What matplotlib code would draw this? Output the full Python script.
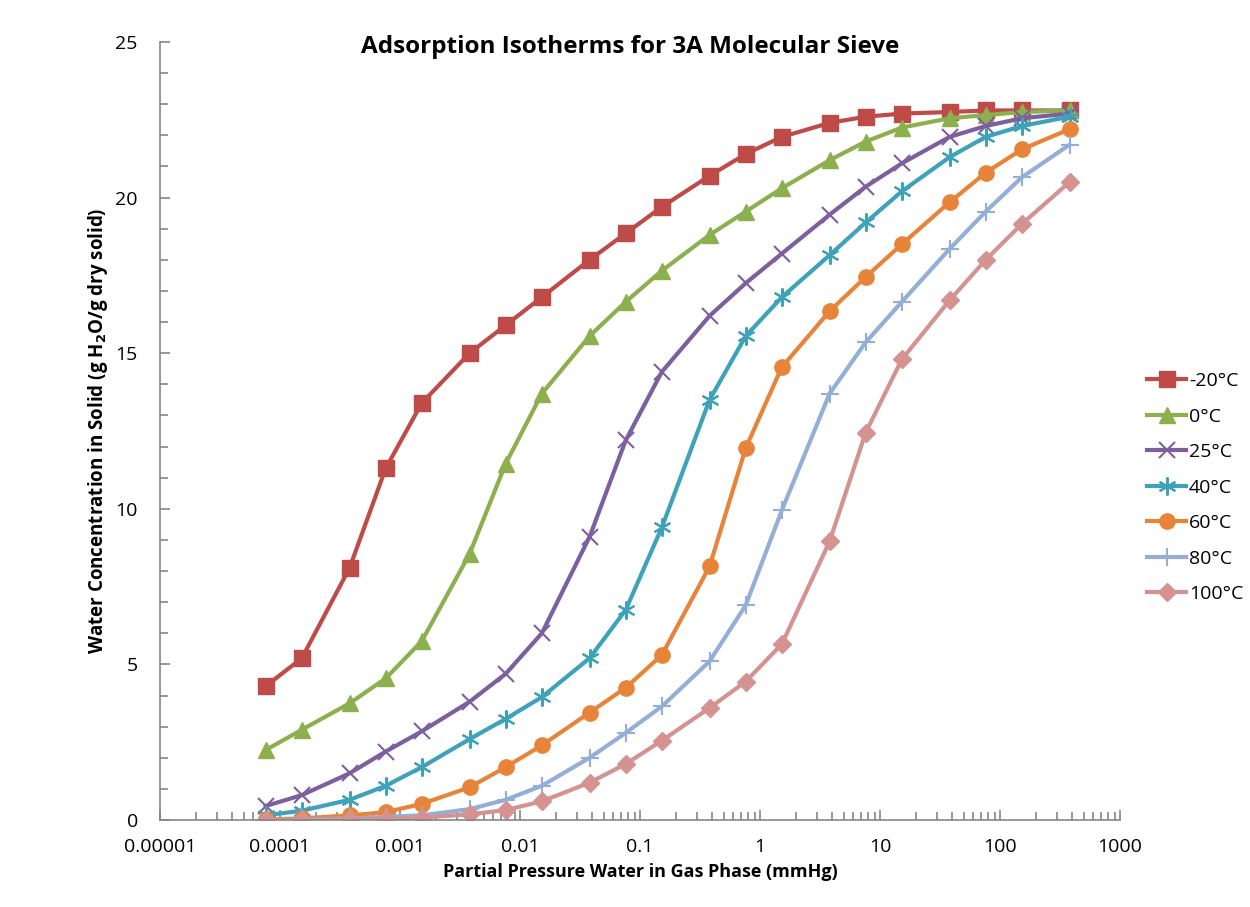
import numpy as np
import matplotlib.pyplot as plt
from matplotlib.ticker import LogLocator, MultipleLocator, FixedFormatter, FixedLocator

# partial pressure of water, mmHg
pressure = [0.000076, 0.000152, 0.00038, 0.00076, 0.00152, 0.0038, 0.0076,
            0.0152, 0.038, 0.076, 0.152, 0.38, 0.76, 1.52, 3.8, 7.6, 15.2,
            38, 76, 152, 380]

labels = ["-20°C", "0°C", "25°C", "40°C", "60°C", "80°C", "100°C"]

t_m20 = [4.3, 5.2, 8.1, 11.3, 13.4, 15.0, 15.9, 16.8, 18.0, 18.85, 19.7,
         20.7, 21.4, 21.95, 22.4, 22.6, 22.7, 22.75, 22.8, 22.8, 22.8]
t_0 = [2.25, 2.9, 3.75, 4.55, 5.75, 8.55, 11.45, 13.7, 15.55, 16.65, 17.65,
       18.8, 19.55, 20.3, 21.2, 21.8, 22.25, 22.55, 22.65, 22.75, 22.8]
t_25 = [0.45, 0.8, 1.5, 2.2, 2.85, 3.8, 4.7, 6.0, 9.1, 12.2, 14.4,
        16.2, 17.25, 18.2, 19.45, 20.35, 21.1, 21.95, 22.3, 22.55, 22.7]
t_40 = [0.15, 0.3, 0.65, 1.1, 1.7, 2.6, 3.25, 3.95, 5.2, 6.75, 9.4,
        13.5, 15.55, 16.8, 18.15, 19.2, 20.2, 21.3, 21.95, 22.3, 22.6]
t_60 = [0.02, 0.05, 0.15, 0.25, 0.52, 1.05, 1.7, 2.4, 3.45, 4.25, 5.3,
        8.15, 11.95, 14.55, 16.35, 17.45, 18.5, 19.85, 20.8, 21.55, 22.2]
t_80 = [0.0, 0.02, 0.05, 0.1, 0.15, 0.35, 0.65, 1.1, 2.0, 2.8, 3.65,
        5.1, 6.9, 9.95, 13.7, 15.35, 16.65, 18.35, 19.55, 20.65, 21.7]
t_100 = [0.0, 0.0, 0.02, 0.04, 0.08, 0.18, 0.32, 0.6, 1.2, 1.8, 2.55,
         3.6, 4.45, 5.65, 8.95, 12.45, 14.8, 16.7, 18.0, 19.15, 20.5]

series = [t_m20, t_0, t_25, t_40, t_60, t_80, t_100]
colors = ["#BE4B48", "#8CB04E", "#7D5FA0", "#3FA2BB", "#E8843A", "#93AFD8", "#D49290"]
markers = ["s", "^", "x", (6, 2, 0), "o", "+", "D"]
msizes = [11, 11, 12, 13, 11, 13, 9]

plt.rcParams['font.family'] = ['Open Sans', 'DejaVu Sans']

fig = plt.figure(figsize=(12.5, 9.07), dpi=100)
ax = fig.add_axes([0.128, 0.0959, 0.768, 0.8578])

for y, c, m, ms, lab in zip(series, colors, markers, msizes, labels):
    thin = m in ("x", "+") or isinstance(m, tuple)
    ax.plot(pressure, y, color=c, lw=3, marker=m, markersize=ms,
            markeredgewidth=1.5 if thin else 1,
            markeredgecolor=c, markerfacecolor=c, label=lab)

ax.set_xscale("log")
ax.set_xlim(1e-5, 1000)
ax.set_ylim(0, 25)

xt = [1e-5, 1e-4, 1e-3, 1e-2, 1e-1, 1, 10, 100, 1000]
ax.xaxis.set_major_locator(FixedLocator(xt))
ax.xaxis.set_major_formatter(FixedFormatter(["0.00001", "0.0001", "0.001", "0.01",
                                             "0.1", "1", "10", "100", "1000"]))
ax.xaxis.set_minor_locator(LogLocator(base=10, subs=np.arange(2, 10), numticks=20))
ax.yaxis.set_major_locator(MultipleLocator(5))
ax.yaxis.set_minor_locator(MultipleLocator(1))

for s in ["top", "right"]:
    ax.spines[s].set_visible(False)
for s in ["left", "bottom"]:
    ax.spines[s].set_color("#868686")
    ax.spines[s].set_linewidth(1.2)

ax.tick_params(axis="both", which="both", direction="in", color="#868686", width=1.2)
ax.tick_params(axis="both", which="major", length=7, labelsize=14, pad=13)
ax.tick_params(axis="both", which="minor", length=6)
ax.tick_params(axis="y", which="major", pad=16)

ax.set_title("Adsorption Isotherms for 3A Molecular Sieve", fontsize=17.5,
             fontweight="bold", x=0.49, y=0.975)
ax.set_xlabel("Partial Pressure Water in Gas Phase (mmHg)", fontsize=13,
              fontweight="bold", labelpad=5)
ax.set_ylabel(r"Water Concentration in Solid (g H$_\mathbf{2}$O/g dry solid)",
              fontsize=13.5, fontweight="bold", labelpad=4)

leg = ax.legend(loc="center left", bbox_to_anchor=(1.01, 0.427), frameon=False,
                fontsize=14, handlelength=2.0, handletextpad=0.15, labelspacing=0.9)

fig.savefig("out.png", dpi=100)
